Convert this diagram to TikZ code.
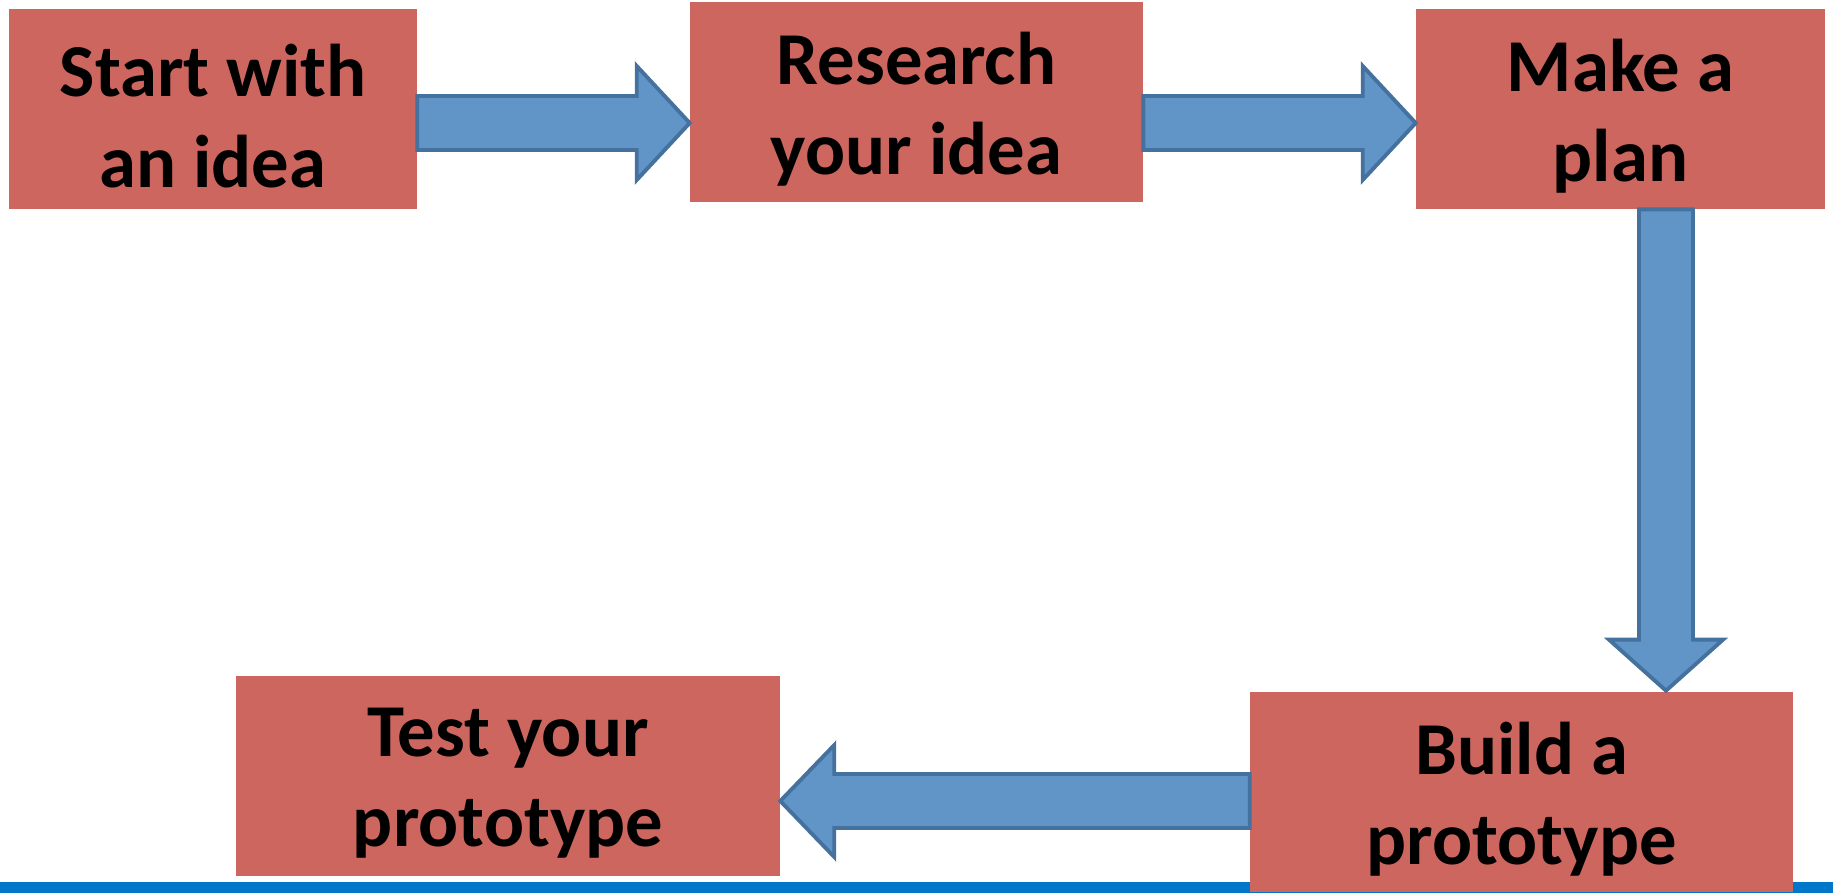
\documentclass[tikz,border=0pt]{standalone}
\usepackage{fontspec}
\setmainfont{Carlito}
\usetikzlibrary{calc}
\definecolor{boxred}{RGB}{205,102,94}
\definecolor{arrowblue}{RGB}{97,149,200}
\definecolor{arrowedge}{RGB}{68,113,158}
\definecolor{barblue}{RGB}{0,119,200}
\begin{document}
\begin{tikzpicture}[x=0.02cm,y=-0.02cm,
  stepbox/.style={fill=boxred, inner sep=0pt, minimum height=4cm},
  steptext/.style={inner sep=0pt, align=center, font=\fontsize{42.5}{51.5}\selectfont\bfseries},
  blockarrow/.style={fill=arrowblue, draw=arrowedge, line width=2.2pt, line join=miter}]
\useasboundingbox (0,0) rectangle (1833,893);
% bottom bar
\fill[barblue] (0,882) rectangle (1833,893);
% boxes
\node[stepbox, minimum width=8.16cm] (b1) at (213,109) {};
\node[stepbox, minimum width=9.06cm] (b2) at (916.5,102) {};
\node[stepbox, minimum width=8.18cm] (b3) at (1620.5,109) {};
\node[stepbox, minimum width=10.88cm] (b4) at (508,776) {};
\node[stepbox, minimum width=10.86cm] (b5) at (1521.5,792) {};
% texts
\node[steptext] (t1) at ($(b1.center)+(0,7)$) {Start with\\an idea};
\node[steptext] (t2) at ($(b2.center)+(0,7)$) {Research\\your idea};
\node[steptext] (t3) at ($(b3.center)+(0,7)$) {Make a\\plan};
\node[steptext] (t4) at ($(b4.center)+(0,7)$) {Test your\\prototype};
\node[steptext] (t5) at ($(b5.center)+(0,7)$) {Build a\\prototype};
% arrow anchors
\coordinate (a1s) at ($(b1.east)+(0,14)$);
\coordinate (a1e) at ($(b2.west)+(0,21)$);
\coordinate (a2s) at ($(b2.east)+(0,21)$);
\coordinate (a2e) at ($(b3.west)+(0,14)$);
\coordinate (a3s) at ($(b3.south)+(45.5,0)$);
\coordinate (a3e) at ($(b5.north)+(144.5,-1)$);
\coordinate (a4s) at ($(b5.west)+(0,9)$);
\coordinate (a4e) at ($(b4.east)+(0,25)$);
% arrows
\draw[blockarrow] ($(a1s)+(0,-27)$) -- ($(a1e)+(-53,-27)$) -- ($(a1e)+(-53,-57)$) -- (a1e)
  -- ($(a1e)+(-53,57)$) -- ($(a1e)+(-53,27)$) -- ($(a1s)+(0,27)$) -- cycle;
\draw[blockarrow] ($(a2s)+(0,-27)$) -- ($(a2e)+(-53,-27)$) -- ($(a2e)+(-53,-57)$) -- (a2e)
  -- ($(a2e)+(-53,57)$) -- ($(a2e)+(-53,27)$) -- ($(a2s)+(0,27)$) -- cycle;
\draw[blockarrow] ($(a3s)+(-27,0)$) -- ($(a3e)+(-27,-51)$) -- ($(a3e)+(-57,-51)$) -- (a3e)
  -- ($(a3e)+(57,-51)$) -- ($(a3e)+(27,-51)$) -- ($(a3s)+(27,0)$) -- cycle;
\draw[blockarrow] ($(a4s)+(0,-27)$) -- ($(a4e)+(54,-27)$) -- ($(a4e)+(54,-56)$) -- (a4e)
  -- ($(a4e)+(54,56)$) -- ($(a4e)+(54,27)$) -- ($(a4s)+(0,27)$) -- cycle;
\end{tikzpicture}
\end{document}
